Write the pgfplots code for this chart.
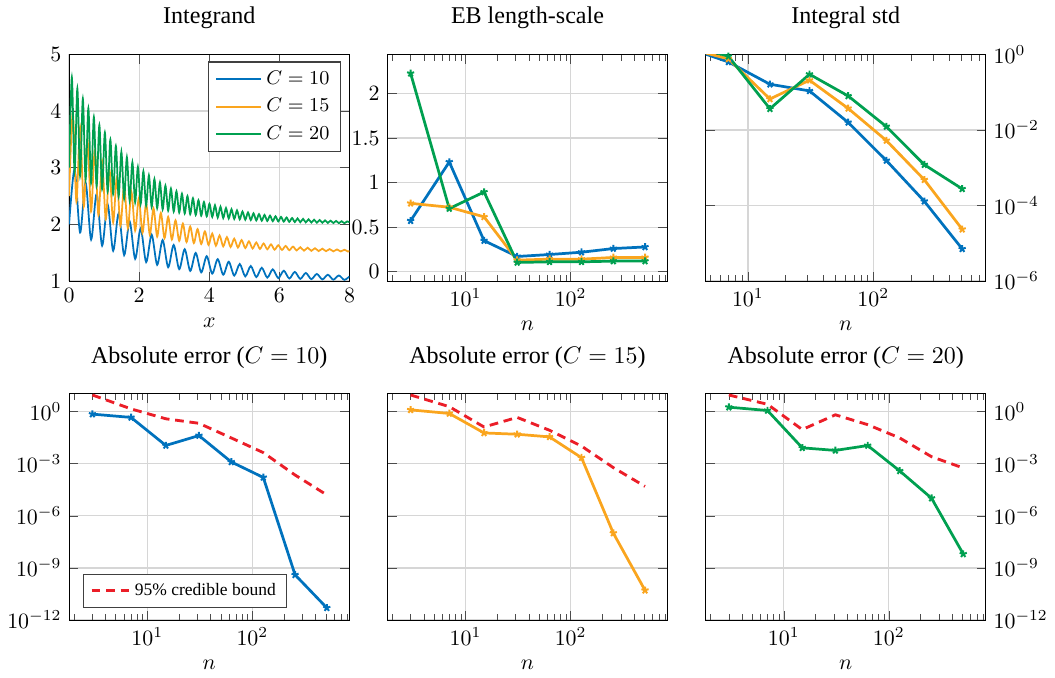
\documentclass[border=0pt]{standalone}
\usepackage{fontspec}
\setmainfont{Liberation Serif}
\usepackage{pgfplots}
\usepackage{pgfplotstable}
\pgfplotsset{compat=1.18}
\usepgfplotslibrary{groupplots}

\definecolor{cblue}{RGB}{0,114,189}
\definecolor{corange}{RGB}{250,165,30}
\definecolor{cgreen}{RGB}{0,160,80}
\definecolor{cred}{RGB}{235,30,40}

% EB length-scale
\pgfplotstableread{
n    C10    C15    C20
3    0.572  0.768  2.227
7    1.232  0.724  0.709
15   0.349  0.616  0.895
31   0.171  0.130  0.104
63   0.193  0.141  0.111
127  0.219  0.141  0.111
255  0.260  0.160  0.119
511  0.278  0.160  0.119
}\lengthscale

% integral std
\pgfplotstableread{
n    C10      C15      C20
3    1.66     1.58     2.0
7    0.631    0.76     0.89
15   0.162    0.066    0.0363
31   0.108    0.207    0.298
63   0.0158   0.0372   0.0794
127  1.55e-3  5.25e-3  0.0123
255  1.29e-4  4.79e-4  1.2e-3
511  7.08e-6  2.34e-5  2.75e-4
}\intstd

% absolute errors and 95% bounds
\pgfplotstableread{
n    e10       b10      e15      b15      e20      b20
3    0.705     8.9      1.24     8.9      1.77     8.9
7    0.455     1.41     0.77     1.9      1.14     2.6
15   0.01107   0.38     0.0583   0.128    8.1e-3   0.091
31   0.0411    0.209    0.049    0.457    5.75e-3  0.646
63   1.245e-3  0.030    0.0345   0.083    0.011    0.174
127  1.6e-4    4.3e-3   2.19e-3  0.0102   3.8e-4   0.030
255  3.98e-10  2.2e-4   1.0e-7   5.9e-4   1.02e-5  2.5e-3
511  5.0e-12   1.58e-5  5.1e-11  4.9e-5   6.3e-9   5.6e-4
}\abserr

\pgfplotsset{
  nline/.style={line width=1.25pt, mark=star, mark size=1.7pt,
    mark options={solid, line width=0.9pt}},
  bound/.style={cred, line width=1.3pt, dash pattern=on 4pt off 2.6pt},
}

\begin{document}
\begin{tikzpicture}
\begin{groupplot}[
  group style={group size=3 by 2, horizontal sep=17.3pt, vertical sep=51.4pt},
  scale only axis, width=128.2pt, height=103.6pt,
  grid=major, grid style={gray!32, line width=0.6pt},
  every axis title/.style={at={(0.5,1)}, anchor=south, yshift=8pt,
    font=\fontsize{11}{13}\selectfont},
  tick style={black!70},
  xmin=1.8, xmax=840,
]
% ---------- integrand
\nextgroupplot[title={Integrand}, xlabel={$x$},
  xmin=0, xmax=8, ymin=1, ymax=5,
  xtick={0,2,4,6,8}, ytick={1,2,3,4,5},
  legend pos=north east,
  legend style={draw=black!75, line width=0.6pt, font=\small, row sep=1pt},
  legend image code/.code={\draw[#1, line width=0.9pt] (0cm,0cm) -- (0.72cm,0cm);}]
\addplot[cblue, line width=0.8pt, smooth] coordinates {
(0,2.000)(0.157,2.972)(0.314,1.855)(0.471,2.739)(0.628,1.730)(0.785,2.534)(0.942,1.624)(1.100,2.353)
(1.257,1.533)(1.414,2.193)(1.571,1.456)(1.728,2.052)(1.885,1.390)(2.042,1.928)(2.199,1.333)(2.356,1.818)
(2.513,1.285)(2.670,1.722)(2.827,1.243)(2.985,1.636)(3.142,1.208)(3.299,1.561)(3.456,1.178)(3.613,1.495)
(3.770,1.152)(3.927,1.437)(4.084,1.130)(4.241,1.385)(4.398,1.111)(4.555,1.340)(4.712,1.095)(4.869,1.299)
(5.027,1.081)(5.184,1.264)(5.341,1.069)(5.498,1.233)(5.655,1.059)(5.812,1.205)(5.969,1.051)(6.126,1.181)
(6.283,1.043)(6.440,1.160)(6.597,1.037)(6.754,1.141)(6.912,1.032)(7.069,1.124)(7.226,1.027)(7.383,1.110)
(7.540,1.023)(7.697,1.097)(7.854,1.020)(8,1.080)};
\addlegendentry{$C=10$}
\addplot[corange, line width=0.8pt, smooth] coordinates {
(0,2.500)(0.105,3.967)(0.209,2.401)(0.314,3.722)(0.419,2.311)(0.524,3.501)(0.628,2.230)(0.733,3.302)
(0.838,2.158)(0.942,3.123)(1.047,2.092)(1.152,2.962)(1.257,2.034)(1.361,2.816)(1.466,1.980)(1.571,2.685)
(1.676,1.933)(1.780,2.568)(1.885,1.890)(1.990,2.461)(2.094,1.851)(2.199,2.366)(2.304,1.816)(2.409,2.280)
(2.513,1.785)(2.618,2.202)(2.723,1.756)(2.827,2.132)(2.932,1.731)(3.037,2.070)(3.142,1.708)(3.246,2.013)
(3.351,1.687)(3.456,1.962)(3.560,1.669)(3.665,1.916)(3.770,1.652)(3.875,1.875)(3.979,1.637)(4.084,1.837)
(4.189,1.623)(4.294,1.804)(4.398,1.611)(4.503,1.774)(4.608,1.600)(4.712,1.746)(4.817,1.590)(4.922,1.722)
(5.027,1.581)(5.131,1.700)(5.236,1.573)(5.341,1.680)(5.445,1.566)(5.550,1.662)(5.655,1.559)(5.760,1.646)
(5.864,1.553)(5.969,1.631)(6.074,1.548)(6.178,1.618)(6.283,1.543)(6.388,1.607)(6.493,1.539)(6.597,1.596)
(6.702,1.535)(6.807,1.587)(6.912,1.532)(7.016,1.578)(7.121,1.528)(7.226,1.570)(7.330,1.526)(7.435,1.563)
(7.540,1.523)(7.645,1.557)(7.749,1.521)(7.854,1.551)(7.959,1.519)(8,1.530)};
\addlegendentry{$C=15$}
\addplot[cgreen, line width=0.8pt, smooth] coordinates {
(0,3.000)(0.079,4.596)(0.157,2.924)(0.236,4.400)(0.314,2.855)(0.393,4.219)(0.471,2.790)(0.550,4.051)
(0.628,2.730)(0.707,3.896)(0.785,2.675)(0.864,3.753)(0.942,2.624)(1.021,3.621)(1.100,2.577)(1.178,3.498)
(1.257,2.533)(1.335,3.385)(1.414,2.493)(1.492,3.280)(1.571,2.456)(1.649,3.184)(1.728,2.422)(1.806,3.094)
(1.885,2.390)(1.963,3.012)(2.042,2.360)(2.120,2.935)(2.199,2.333)(2.277,2.865)(2.356,2.308)(2.435,2.799)
(2.513,2.285)(2.592,2.739)(2.670,2.263)(2.749,2.683)(2.827,2.243)(2.906,2.631)(2.985,2.225)(3.063,2.584)
(3.142,2.208)(3.220,2.540)(3.299,2.192)(3.377,2.499)(3.456,2.178)(3.534,2.461)(3.613,2.164)(3.691,2.426)
(3.770,2.152)(3.848,2.394)(3.927,2.140)(4.006,2.364)(4.084,2.130)(4.163,2.337)(4.241,2.120)(4.320,2.311)
(4.398,2.111)(4.477,2.288)(4.555,2.103)(4.634,2.266)(4.712,2.095)(4.791,2.246)(4.869,2.088)(4.948,2.227)
(5.027,2.081)(5.105,2.210)(5.184,2.075)(5.262,2.194)(5.341,2.069)(5.419,2.180)(5.498,2.064)(5.576,2.166)
(5.655,2.059)(5.733,2.154)(5.812,2.055)(5.890,2.142)(5.969,2.051)(6.048,2.131)(6.126,2.047)(6.205,2.121)
(6.283,2.043)(6.362,2.112)(6.440,2.040)(6.519,2.104)(6.597,2.037)(6.676,2.096)(6.754,2.034)(6.833,2.089)
(6.912,2.032)(6.990,2.082)(7.069,2.029)(7.147,2.076)(7.226,2.027)(7.304,2.070)(7.383,2.025)(7.461,2.065)
(7.540,2.023)(7.618,2.060)(7.697,2.021)(7.775,2.055)(7.854,2.020)(7.933,2.051)(8,2.035)};
\addlegendentry{$C=20$}
% ---------- EB length-scale
\nextgroupplot[title={EB length-scale}, xlabel={$n$}, xmode=log,
  ymin=-0.104, ymax=2.44, ytick={0,0.5,1,1.5,2}]
\addplot[cblue, nline] table[x=n, y=C10] {\lengthscale};
\addplot[corange, nline] table[x=n, y=C15] {\lengthscale};
\addplot[cgreen, nline] table[x=n, y=C20] {\lengthscale};
% ---------- integral std
\nextgroupplot[title={Integral std}, xlabel={$n$}, xmode=log, ymode=log,
  xmin=4.6, xmax=790, ymin=1e-6, ymax=1,
  ytick={1,1e-2,1e-4,1e-6}, yminorticks=false, yticklabel pos=right]
\addplot[cblue, nline] table[x=n, y=C10] {\intstd};
\addplot[corange, nline] table[x=n, y=C15] {\intstd};
\addplot[cgreen, nline] table[x=n, y=C20] {\intstd};
% ---------- absolute error C=10
\nextgroupplot[title={Absolute error ($C=10$)}, xlabel={$n$}, xmode=log, ymode=log,
  ymin=1e-12, ymax=11, ytick={1,1e-3,1e-6,1e-9,1e-12}, yminorticks=false,
  legend style={at={(0.05,0.053)}, anchor=south west, draw=black!75, line width=0.6pt,
    font=\footnotesize}]
\addplot[bound] table[x=n, y=b10] {\abserr};
\addlegendentry{95\% credible bound}
\addplot[cblue, nline, forget plot] table[x=n, y=e10] {\abserr};
% ---------- absolute error C=15
\nextgroupplot[title={Absolute error ($C=15$)}, xlabel={$n$}, xmode=log, ymode=log,
  ymin=1e-12, ymax=11, ytick={1,1e-3,1e-6,1e-9,1e-12}, yminorticks=false,
  yticklabels={}]
\addplot[bound] table[x=n, y=b15] {\abserr};
\addplot[corange, nline] table[x=n, y=e15] {\abserr};
% ---------- absolute error C=20
\nextgroupplot[title={Absolute error ($C=20$)}, xlabel={$n$}, xmode=log, ymode=log,
  ymin=1e-12, ymax=11, ytick={1,1e-3,1e-6,1e-9,1e-12}, yminorticks=false,
  yticklabel pos=right]
\addplot[bound] table[x=n, y=b20] {\abserr};
\addplot[cgreen, nline] table[x=n, y=e20] {\abserr};
\end{groupplot}
\end{tikzpicture}
\end{document}
